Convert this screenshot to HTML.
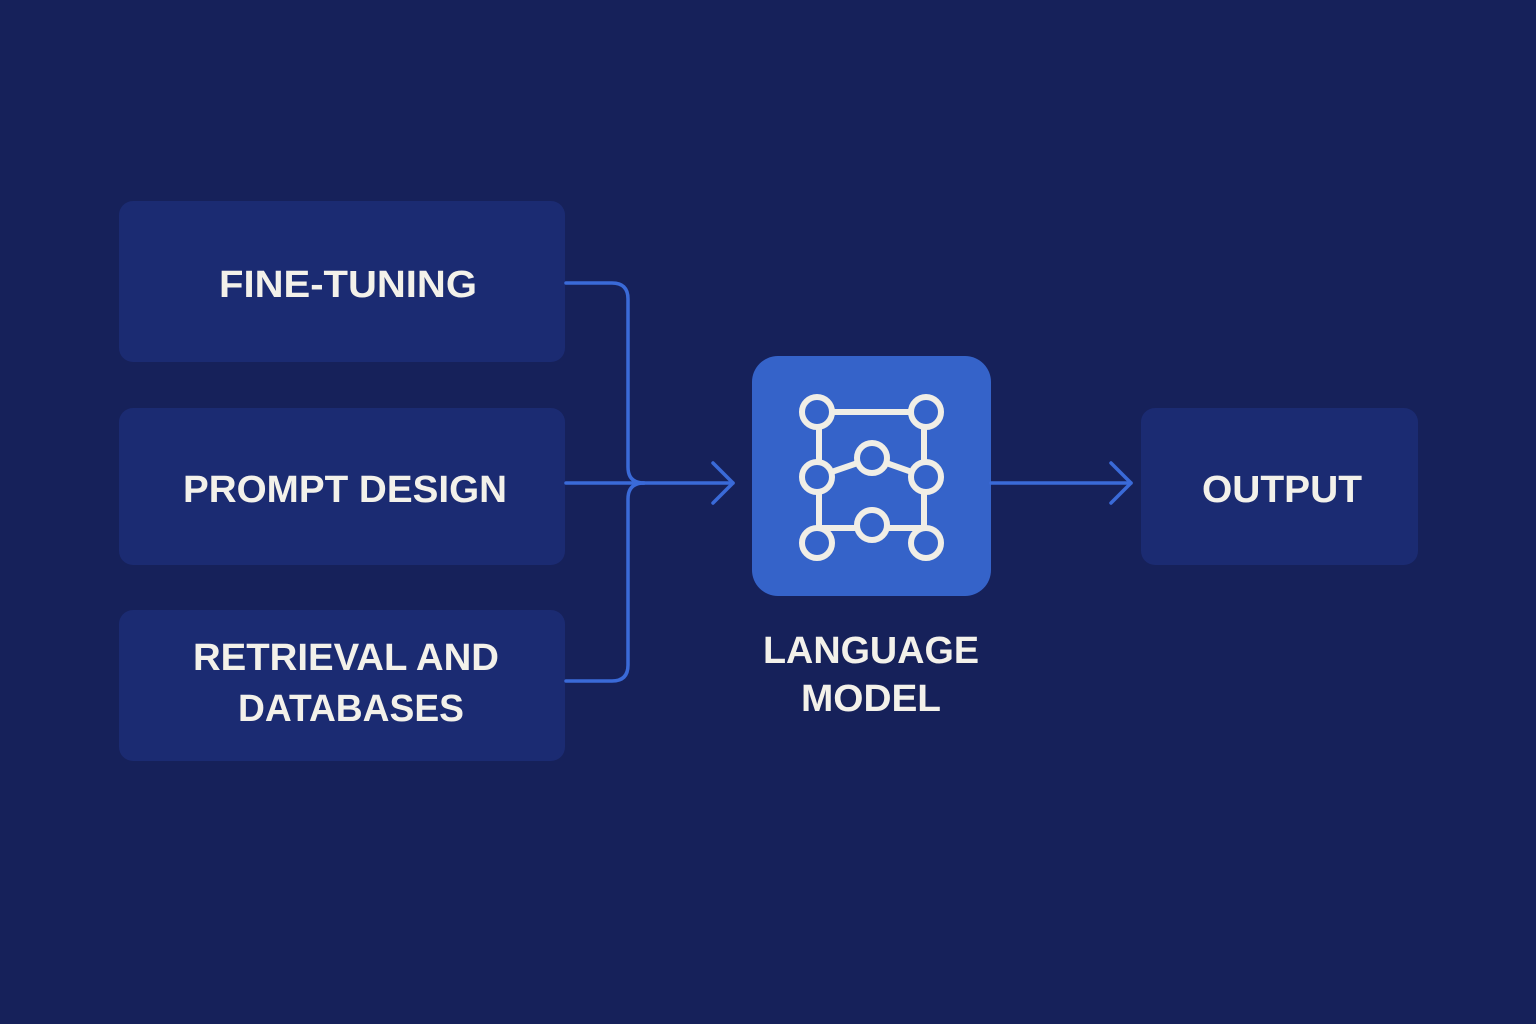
<!DOCTYPE html>
<html><head><meta charset="utf-8"><style>
html,body{margin:0;padding:0;background:#16215a;}
svg{display:block}
text{font-family:"Liberation Sans",sans-serif;font-weight:bold;fill:#f3f1ea;text-anchor:middle}
</style></head><body>
<svg width="1536" height="1024" viewBox="0 0 1536 1024" xmlns="http://www.w3.org/2000/svg">
<rect width="1536" height="1024" fill="#16215a"/>
<rect x="119" y="201" width="446" height="161" rx="14" fill="#1b2b72"/>
<rect x="119" y="408" width="446" height="157" rx="14" fill="#1b2b72"/>
<rect x="119" y="610" width="446" height="151" rx="14" fill="#1b2b72"/>
<rect x="1141" y="408" width="277" height="157" rx="14" fill="#1b2b72"/>
<rect x="752" y="356" width="239" height="240" rx="26" fill="#3563c9"/>
<text x="348" y="297" font-size="38" textLength="258" lengthAdjust="spacingAndGlyphs">FINE-TUNING</text>
<text x="345" y="502" font-size="38" textLength="324" lengthAdjust="spacingAndGlyphs">PROMPT DESIGN</text>
<text x="346" y="670" font-size="38" textLength="306" lengthAdjust="spacingAndGlyphs">RETRIEVAL AND</text>
<text x="351" y="721" font-size="38" textLength="226" lengthAdjust="spacingAndGlyphs">DATABASES</text>
<text x="1282" y="502" font-size="38" textLength="160" lengthAdjust="spacingAndGlyphs">OUTPUT</text>
<text x="871" y="663" font-size="38" textLength="216" lengthAdjust="spacingAndGlyphs">LANGUAGE</text>
<text x="871" y="711" font-size="38" textLength="140" lengthAdjust="spacingAndGlyphs">MODEL</text>
<g fill="none" stroke="#3a6ad8" stroke-width="3.5" stroke-linecap="round" stroke-linejoin="round">
<path d="M566 283 H612 Q628 283 628 299 V467 Q628 483 644 483"/>
<path d="M566 681 H612 Q628 681 628 665 V499 Q628 483 644 483"/>
<path d="M566 483 H733"/>
<path d="M713 463 L733 483 L713 503"/>
<path d="M991 483 H1131"/>
<path d="M1111 463 L1131 483 L1111 503"/>
</g>
<g stroke="#f0eee6" stroke-width="6" fill="none">
<path d="M817 412 H926 M819 412 V543 M924 412 V543 M817 528 H926 M817 477 L872 458 L926 477"/>
</g>
<g stroke="#f0eee6" stroke-width="6" fill="#3563c9">
<circle cx="817" cy="412" r="15"/><circle cx="926" cy="412" r="15"/>
<circle cx="817" cy="477" r="15"/><circle cx="872" cy="458" r="15"/><circle cx="926" cy="477" r="15"/>
<circle cx="817" cy="543" r="15"/><circle cx="872" cy="525" r="15"/><circle cx="926" cy="543" r="15"/>
</g>
</svg>
</body></html>
